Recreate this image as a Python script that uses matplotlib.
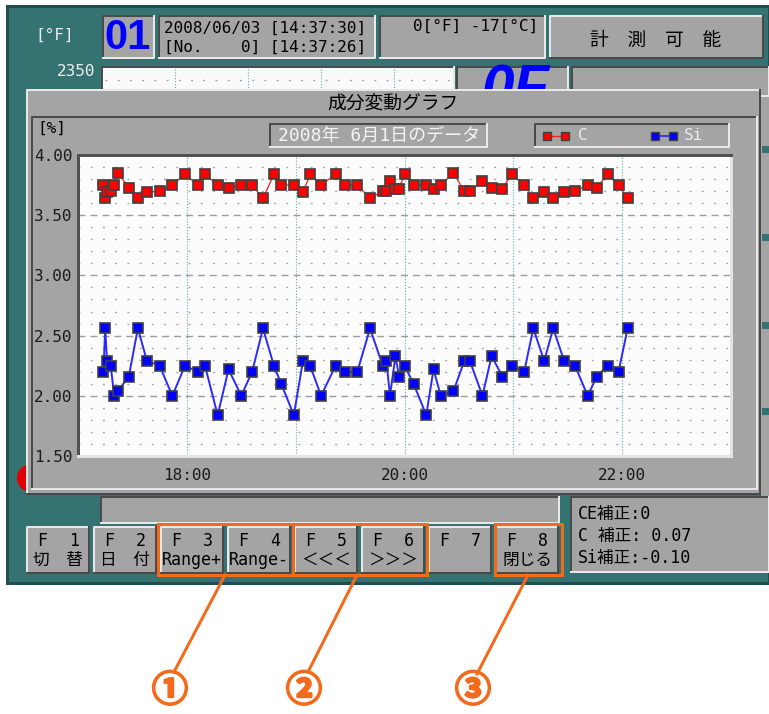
import numpy as np
import matplotlib
matplotlib.use('Agg')
import matplotlib.pyplot as plt
import matplotlib.patheffects as pe
from matplotlib.patches import Rectangle, Circle

W, H, DPI = 769, 714, 100

# sample times and composition [%] for the day
times = ['17:14', '17:15', '17:16', '17:18', '17:20', '17:22', '17:28', '17:33',
         '17:38', '17:45', '17:52', '17:59', '18:06', '18:10', '18:17', '18:23',
         '18:30', '18:36', '18:42', '18:48', '18:52', '18:59', '19:04', '19:08',
         '19:14', '19:22', '19:27', '19:34', '19:41', '19:48', '19:50', '19:52',
         '19:55', '19:57', '20:00', '20:05', '20:12', '20:16', '20:20', '20:27',
         '20:33', '20:36', '20:43', '20:48', '20:54', '20:59', '21:06', '21:11',
         '21:17', '21:22', '21:28', '21:34', '21:41', '21:46', '21:52', '21:58',
         '22:03']
c_pct = [3.75, 3.64, 3.69, 3.70, 3.75, 3.85, 3.73, 3.64,
         3.69, 3.70, 3.75, 3.84, 3.75, 3.84, 3.75, 3.73,
         3.75, 3.75, 3.64, 3.84, 3.75, 3.75, 3.69, 3.84,
         3.75, 3.84, 3.75, 3.75, 3.64, 3.70, 3.70, 3.78,
         3.72, 3.72, 3.84, 3.75, 3.75, 3.72, 3.75, 3.85,
         3.70, 3.70, 3.78, 3.73, 3.72, 3.84, 3.75, 3.64,
         3.69, 3.64, 3.69, 3.70, 3.75, 3.73, 3.84, 3.75,
         3.64]
si_pct = [2.20, 2.56, 2.29, 2.25, 2.00, 2.04, 2.16, 2.56,
          2.29, 2.25, 2.00, 2.25, 2.20, 2.25, 1.84, 2.22,
          2.00, 2.20, 2.56, 2.25, 2.10, 1.84, 2.29, 2.25,
          2.00, 2.25, 2.20, 2.20, 2.56, 2.25, 2.29, 2.00,
          2.33, 2.16, 2.25, 2.10, 1.84, 2.22, 2.00, 2.04,
          2.29, 2.29, 2.00, 2.33, 2.16, 2.25, 2.20, 2.56,
          2.29, 2.56, 2.29, 2.25, 2.00, 2.16, 2.25, 2.20,
          2.56]

y_ticks = [1.50, 2.00, 2.50, 3.00, 3.50, 4.00]
x_ticks = ['18:00', '20:00', '22:00']
fkeys = ['1', '2', '3', '4', '5', '6', '7', '8']
fnames = ['切　替', '日　付', 'Range+', 'Range-', '＜＜＜', '＞＞＞', '', '閉じる']
corrections = ['CE補正:0', 'C 補正: 0.07', 'Si補正:-0.10']

TEAL = '#357272'
TEAL_DK = '#1f4e4e'
GRAY = '#a4a4a4'
HI = '#e8e8e8'
LO = '#4a4a4a'
ORANGE = '#f26b1d'
LIGHT_TXT = '#ececec'

plt.rcParams['font.family'] = ['DejaVu Sans Mono', 'Noto Sans CJK JP']


def to_hours(s):
    h, m = s.split(':')
    return int(h) + int(m) / 60


def pt(px):
    return px * 72 / DPI


fig = plt.figure(figsize=(W / DPI, H / DPI), dpi=DPI)
fig.patch.set_facecolor('white')

ui = fig.add_axes([0, 0, 1, 1])
ui.set_xlim(0, W)
ui.set_ylim(H, 0)
ui.axis('off')
ui.set_zorder(0)


def rect(x0, y0, x1, y1, fc, z=1):
    ui.add_patch(Rectangle((x0, y0), x1 - x0, y1 - y0, fc=fc, ec='none', zorder=z))


def bevel(x0, y0, x1, y1, raised=True, z=1, fc=GRAY, w=2):
    rect(x0, y0, x1, y1, fc, z)
    hi, lo = (HI, LO) if raised else (LO, HI)
    ui.plot([x0, x0, x1], [y1, y0, y0], color=hi, lw=pt(w), zorder=z + 0.05)
    ui.plot([x0, x1, x1], [y1, y1, y0], color=lo, lw=pt(w), zorder=z + 0.05)


def txt(x, y, s, size=11.5, color='black', z=2, **kw):
    kw.setdefault('ha', 'left')
    kw.setdefault('va', 'center')
    ui.text(x, y, s, fontsize=size, color=color, zorder=z, **kw)


# main teal panel
ui.add_patch(Rectangle((7, 6), W - 7, 577, fc=TEAL, ec=TEAL_DK, lw=pt(3), zorder=0.5))

# header row
txt(55, 35, '[°F]', color=LIGHT_TXT, ha='center')
bevel(103, 16, 154, 58, raised=False)
ui.text(128, 38, '01', fontsize=30, color='#0000ff', weight='bold',
        family=['Liberation Sans', 'DejaVu Sans'], ha='center', va='center', zorder=2)
bevel(159, 16, 375, 58, raised=False)
txt(164, 28, '2008/06/03 [14:37:30]')
txt(164, 47, '[No.    0] [14:37:26]')
bevel(380, 16, 545, 58, raised=False)
txt(538, 26, '0[°F] -17[°C]', ha='right')
bevel(550, 16, 763, 58, raised=True)
txt(656, 40, '計　測　可　能', size=13.5, ha='center')

# second row, mostly covered by the dialog
txt(95, 72, '2350', color=LIGHT_TXT, ha='right')
bevel(102, 67, 454, 96, raised=False, fc='#fafafa')
ui.plot([105, 452], [80, 80], color='#a0a0a0', lw=1, ls=(0, (1.4, 7.4)), zorder=1.1)
for xv in (175, 248, 321, 394):
    ui.plot([xv, xv], [69, 96], color='#5aa9a9', lw=0.8, ls=(0, (1, 1.6)), zorder=1.1)
bevel(457, 67, 568, 96, raised=False)
ui.text(516, 64, '0F', fontsize=42, color='#0000ff', weight='bold', style='italic',
        family=['Liberation Sans', 'DejaVu Sans'], ha='center', va='top', zorder=2)
bevel(572, 67, 769, 96, raised=False)
rect(761, 96, 769, 497, GRAY)
for yv in (146, 234, 322, 408):
    rect(762, yv, 769, yv + 7, TEAL, z=1.2)
ui.add_patch(Circle((31, 478), 14, fc='#e00000', ec='none', zorder=1))
txt(94, 489, '2000', color=LIGHT_TXT, ha='right')

# dialog window
bevel(27, 90, 760, 494, raised=True, z=5)
txt(393, 104, '成分変動グラフ', size=13.5, ha='center', z=6)
bevel(32, 117, 757, 489, raised=False, z=5.2)
txt(37, 128, '[%]', z=6)
bevel(270, 124, 487, 147, raised=False, z=6)
txt(278, 136, '2008年 6月1日のデータ', size=13, color='#f4f4f4', z=7)
bevel(535, 124, 729, 147, raised=False, z=6)
ui.plot([547, 565], [136, 136], color='#ff2020', lw=1, marker='s', ms=6,
        mfc='#ff0000', mec='#404040', mew=1, zorder=7)
txt(578, 136, 'C', color=LIGHT_TXT, z=7)
ui.plot([655, 673], [136, 136], color='#2828ff', lw=1.2, marker='s', ms=6,
        mfc='#0000ff', mec='#404040', mew=1, zorder=7)
txt(684, 136, 'Si', color=LIGHT_TXT, z=7)

# bottom status boxes and function keys
bevel(101, 497, 559, 523, raised=False)
bevel(571, 497, 769, 572, raised=False)
for i, s in enumerate(corrections):
    txt(578, 514 + 22 * i, s, size=12)
for i, (k, name) in enumerate(zip(fkeys, fnames)):
    x0 = 27 + 67 * i
    x1 = x0 + 62
    bevel(x0, 527, x1, 573, raised=True)
    txt(x0 + 15, 541, 'F', size=12, ha='center')
    txt(x1 - 15, 541, k, size=12, ha='center')
    if name:
        txt((x0 + x1) / 2, 560, name, size=12, ha='center')

# callouts
for (x0, x1), (lx, ex, ey), num in zip(
        [(158, 293), (293, 427), (495, 562)],
        [(225, 174, 672), (357, 308, 672), (528, 477, 674)],
        ['①', '②', '③']):
    ui.add_patch(Rectangle((x0, 524), x1 - x0, 51, fc='none', ec=ORANGE, lw=pt(3), zorder=3))
    ui.plot([lx, ex], [575, ey], color=ORANGE, lw=pt(3), zorder=3)
    ui.text(ex - 4, 691, num, fontsize=26, color=ORANGE, weight='bold',
            family='Noto Sans CJK JP', ha='center', va='center', zorder=3,
            path_effects=[pe.withStroke(linewidth=1.6, foreground=ORANGE)])

# trend chart
ax = fig.add_axes([78 / W, 1 - 456 / H, 653 / W, 301 / H])
ax.set_zorder(2)
ax.set_facecolor('#fcfcfc')
hrs = [to_hours(s) for s in times]
ax.set_xlim(17, 23)
ax.set_ylim(1.5, 4.0)

for v in np.arange(1.6, 3.95, 0.1):
    major = abs(v * 2 - round(v * 2)) < 1e-6
    if major:
        ax.axhline(v, color='#9c9c9c', lw=1, ls=(0, (5, 3.6)), zorder=1)
    else:
        ax.axhline(v, color='#a6a6a6', lw=1, ls=(0, (1.4, 7.4)), zorder=1)
for hr in range(18, 23):
    ax.axvline(hr, color='#5aa9a9', lw=0.8, ls=(0, (1, 1.6)), zorder=1)

ax.plot(hrs, c_pct, color='#f03030', lw=1.0, marker='s', ms=6.8,
        mfc='#ff0000', mec='#404040', mew=1.2, zorder=3, clip_on=False)
ax.plot(hrs, si_pct, color='#2a2aff', lw=1.4, marker='s', ms=6.8,
        mfc='#0000ff', mec='#404040', mew=1.2, zorder=3, clip_on=False)

ax.set_yticks(y_ticks)
ax.set_yticklabels([f'{v:.2f}' for v in y_ticks])
ax.set_xticks([to_hours(s) for s in x_ticks])
ax.set_xticklabels(x_ticks)
ax.tick_params(length=0, labelsize=11.5, labelcolor='#1a1a1a')
ax.tick_params(axis='y', pad=4)
ax.tick_params(axis='x', pad=9)
for side in ('top', 'left'):
    ax.spines[side].set_color('#505050')
    ax.spines[side].set_linewidth(pt(3))
for side in ('bottom', 'right'):
    ax.spines[side].set_color('#e4e4e4')
    ax.spines[side].set_linewidth(pt(3))

fig.savefig('out.png', dpi=DPI)
